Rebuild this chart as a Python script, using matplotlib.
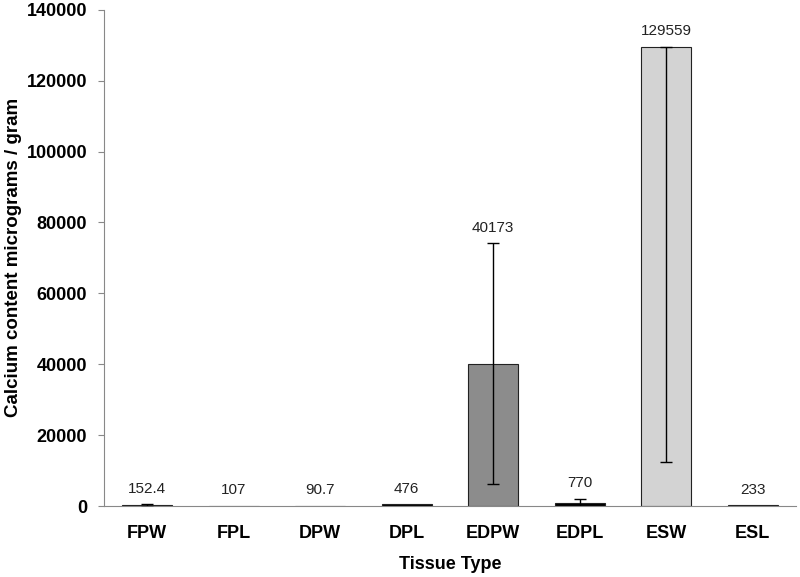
import numpy as np
import matplotlib
matplotlib.use("Agg")
import matplotlib.pyplot as plt

plt.rcParams['font.family'] = ['Liberation Sans', 'DejaVu Sans']

# donnees
tissus = ["FPW", "FPL", "DPW", "DPL", "EDPW", "EDPL", "ESW", "ESL"]
calcium = [152.4, 107, 90.7, 476, 40173, 770, 129559, 233]
etiquettes = ["152.4", "107", "90.7", "476", "40173", "770", "129559", "233"]
err_bas = [300, 0, 0, 0, 34000, 1300, 117159, 0]
err_haut = [300, 0, 0, 0, 34000, 1300, 0, 0]
couleurs = ["black", "black", "black", "black", "#8c8c8c", "black", "#d3d3d3", "#d3d3d3"]

fig = plt.figure(figsize=(8, 5.77), dpi=100)
ax = fig.add_axes([0.13, 0.123, 0.865, 0.86])

x = np.arange(len(tissus))
ax.bar(x, calcium, width=0.58, color=couleurs, edgecolor="#222222", linewidth=0.8, zorder=2)

# barres d'erreur (seulement la ou il y en a)
for i in range(len(tissus)):
    if err_bas[i] > 0 or err_haut[i] > 0:
        ax.errorbar(x[i], calcium[i], yerr=[[err_bas[i]], [err_haut[i]]],
                    fmt="none", ecolor="black", elinewidth=1, capsize=4, capthick=1, zorder=3)

for i in range(len(tissus)):
    haut = calcium[i] + err_haut[i]
    ax.annotate(etiquettes[i], (x[i], haut), xytext=(0, 6), textcoords="offset points",
                ha="center", va="bottom", fontsize=11, color="#222222")

ax.set_xlim(-0.5, len(tissus) - 0.5)
ax.set_ylim(0, 140000)
ax.set_yticks(np.arange(0, 140001, 20000))
ax.set_xticks(x)
ax.set_xticklabels(tissus, fontsize=13, fontweight="bold")
ax.tick_params(axis="y", labelsize=13, length=4, color="#888888", pad=8)
for lab in ax.get_yticklabels():
    lab.set_fontweight("bold")
ax.tick_params(axis="x", length=0, pad=14)

ax.spines["top"].set_visible(False)
ax.spines["right"].set_visible(False)
ax.spines["left"].set_color("#888888")
ax.spines["bottom"].set_color("#888888")

ax.set_xlabel("Tissue Type", fontsize=13, fontweight="bold", labelpad=10)
ax.set_ylabel("Calcium content micrograms / gram", fontsize=13.5, fontweight="bold")
ax.yaxis.set_label_coords(-0.119, 0.5)

plt.savefig("out.png", dpi=100)
